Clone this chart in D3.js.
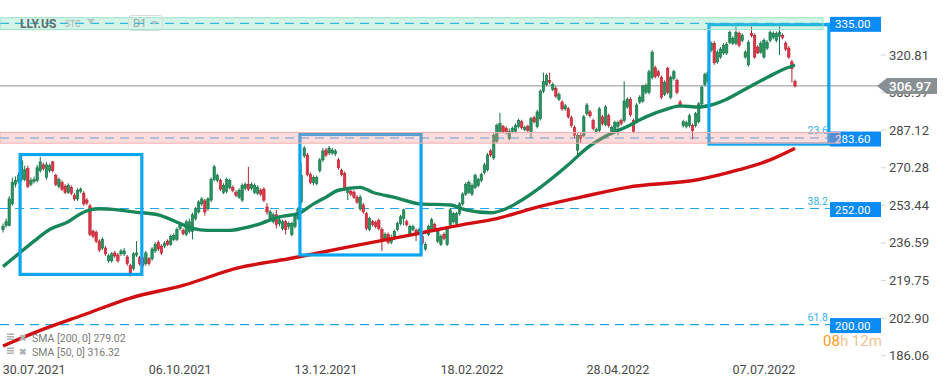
<!DOCTYPE html>
<html>
<head>
<meta charset="utf-8">
<script src="https://cdnjs.cloudflare.com/ajax/libs/d3/7.8.5/d3.min.js"></script>
<style>
  html, body { margin: 0; padding: 0; background: #fff; }
  svg { display: block; font-family: Roboto, "Noto Sans", sans-serif; }
</style>
</head>
<body>
<div id="chart"></div>
<script>
// daily candles LLY.US, index 0..255
const opens = [
  242.6, 244.4, 244.4, 254.1, 262.9, 264.2, 265.0, 265.0, 269.9, 262.9,
  264.2, 264.6, 269.0, 271.6, 265.9, 269.0, 272.9, 266.8, 262.0, 263.7,
  262.0, 259.3, 261.5, 258.0, 256.3, 259.8, 258.9, 255.8, 253.2, 241.8,
  241.3, 237.4, 234.3, 234.3, 228.6, 228.6, 232.1, 231.2, 231.7, 231.7,
  230.3, 226.4, 225.1, 231.2, 229.9, 229.9, 227.3, 229.5, 229.5, 233.0,
  236.9, 235.2, 235.2, 237.4, 236.0, 238.2, 238.2, 243.1, 242.2, 240.4,
  241.8, 241.8, 247.5, 250.5, 254.1, 255.4, 251.9, 255.8, 265.0, 264.6,
  264.6, 259.3, 259.8, 261.5, 261.5, 259.3, 257.1, 255.8, 261.1, 262.9,
  261.1, 259.3, 258.9, 260.2, 260.7, 252.7, 247.5, 246.1, 249.2, 245.3,
  243.1, 246.1, 244.0, 240.4, 244.0, 247.5, 254.9, 275.6, 276.0, 267.2,
  263.7, 263.3, 269.0, 273.8, 278.2, 276.9, 276.9, 276.5, 273.8, 269.0,
  267.7, 259.3, 259.8, 259.3, 257.1, 251.9, 253.6, 249.7, 242.6, 246.1,
  245.7, 246.6, 242.6, 238.2, 240.4, 236.9, 238.7, 242.6, 245.3, 247.5,
  246.1, 240.4, 242.6, 242.2, 241.3, 239.6, 233.9, 240.4, 242.6, 244.8,
  237.4, 236.0, 240.4, 236.0, 244.8, 246.1, 245.3, 249.7, 254.1, 258.5,
  259.3, 258.5, 261.5, 262.4, 264.6, 268.1, 269.4, 277.8, 274.7, 282.2,
  286.6, 288.8, 287.9, 283.5, 286.6, 286.6, 288.8, 290.9, 287.4, 288.8,
  286.6, 292.7, 288.8, 292.3, 304.6, 307.6, 309.4, 305.4, 305.9, 301.0,
  299.7, 296.7, 296.7, 292.7, 288.3, 278.2, 284.8, 284.8, 294.5, 295.3,
  291.4, 286.6, 287.0, 293.1, 289.6, 293.6, 286.6, 287.0, 288.8, 291.4,
  291.4, 297.5, 301.0, 291.4, 291.4, 299.7, 300.2, 304.1, 304.1, 310.7,
  315.1, 313.3, 310.7, 303.2, 314.7, 301.9, 310.3, 309.4, 299.7, 289.2,
  288.8, 289.2, 289.2, 289.2, 290.9, 298.9, 307.6, 309.0, 323.0, 326.1,
  317.7, 319.9, 321.7, 321.7, 326.5, 326.1, 326.1, 330.5, 327.4, 319.9,
  316.4, 330.5, 329.6, 324.3, 322.1, 319.9, 323.9, 327.4, 328.7, 327.4,
  329.2, 329.6, 326.1, 323.9, 317.7, 309.0
];
const highs = [
  245.3, 247.5, 257.6, 265.9, 266.4, 268.1, 275.6, 271.2, 271.2, 265.9,
  266.4, 271.6, 275.1, 272.5, 272.9, 272.1, 273.4, 267.7, 265.9, 264.6,
  262.9, 263.3, 262.4, 258.9, 261.1, 261.5, 259.8, 256.7, 254.1, 242.6,
  242.2, 238.2, 239.1, 235.2, 231.7, 232.5, 233.0, 232.1, 233.9, 234.3,
  231.2, 227.3, 232.5, 237.4, 230.8, 230.8, 233.0, 230.3, 234.7, 236.9,
  237.8, 236.0, 237.4, 238.2, 240.4, 240.9, 243.5, 245.7, 243.1, 247.0,
  247.5, 250.1, 252.7, 255.8, 257.1, 256.3, 257.1, 265.9, 271.6, 267.7,
  265.5, 263.3, 265.9, 265.5, 262.4, 260.2, 261.1, 263.3, 263.7, 270.7,
  263.7, 263.3, 262.4, 261.1, 261.5, 254.5, 251.4, 250.1, 251.4, 247.9,
  247.0, 247.0, 246.1, 246.1, 249.7, 252.7, 272.5, 280.0, 276.9, 268.1,
  266.8, 266.8, 274.7, 279.1, 279.1, 280.0, 279.1, 278.7, 274.7, 269.9,
  268.6, 261.5, 260.7, 260.2, 258.0, 258.0, 254.5, 250.5, 248.3, 247.0,
  246.6, 247.5, 243.5, 241.3, 241.3, 240.4, 242.6, 246.1, 249.2, 251.9,
  247.0, 244.8, 244.8, 243.1, 243.5, 240.4, 236.9, 244.8, 247.9, 245.7,
  242.6, 240.4, 241.3, 244.0, 252.3, 250.5, 250.5, 254.9, 259.3, 263.7,
  264.6, 263.3, 267.7, 265.9, 268.1, 272.5, 276.9, 278.7, 285.7, 290.1,
  294.9, 289.6, 288.8, 287.9, 288.8, 290.1, 292.3, 291.8, 289.2, 289.6,
  293.1, 293.6, 296.2, 305.4, 312.9, 312.5, 312.9, 308.5, 306.8, 304.1,
  300.6, 298.9, 297.5, 293.6, 289.2, 285.7, 285.7, 294.0, 299.3, 296.2,
  292.3, 288.3, 297.5, 294.0, 298.4, 294.5, 289.2, 291.4, 291.4, 292.3,
  309.0, 301.9, 301.9, 292.3, 299.3, 302.8, 307.6, 308.1, 314.2, 323.0,
  316.0, 314.2, 311.6, 309.4, 315.5, 311.6, 314.2, 310.3, 300.6, 291.8,
  291.4, 294.5, 290.1, 295.3, 299.7, 307.2, 312.9, 313.8, 327.0, 327.0,
  323.0, 324.3, 326.1, 326.5, 331.8, 329.2, 333.6, 331.4, 330.5, 323.0,
  327.4, 333.6, 330.5, 325.2, 327.0, 328.3, 327.4, 331.8, 331.4, 331.4,
  333.6, 330.5, 327.0, 324.8, 318.6, 309.8
];
const lows = [
  241.3, 243.5, 244.0, 253.2, 261.5, 263.3, 264.2, 264.2, 261.1, 262.0,
  263.3, 263.7, 268.1, 269.0, 265.0, 268.1, 268.1, 262.0, 261.1, 259.8,
  258.5, 258.5, 258.0, 255.4, 255.4, 258.9, 253.2, 253.6, 239.6, 238.7,
  236.5, 232.5, 233.4, 230.8, 227.7, 227.7, 229.9, 227.7, 230.8, 230.8,
  226.4, 221.6, 224.2, 230.3, 226.4, 225.5, 226.4, 226.4, 228.6, 232.1,
  233.0, 231.2, 234.3, 235.2, 235.2, 237.4, 237.4, 242.2, 240.0, 239.6,
  240.9, 238.2, 246.6, 249.7, 253.2, 248.8, 251.0, 254.9, 264.2, 263.7,
  259.8, 258.5, 258.9, 260.7, 259.3, 257.1, 256.3, 254.9, 260.2, 259.8,
  260.2, 258.5, 258.0, 257.6, 254.9, 249.2, 246.6, 245.3, 243.1, 244.0,
  242.2, 240.4, 242.6, 239.6, 243.1, 246.6, 254.1, 274.7, 266.4, 262.9,
  262.4, 262.4, 268.1, 272.9, 275.1, 276.0, 276.0, 275.6, 269.4, 266.4,
  259.8, 255.8, 257.6, 256.3, 254.1, 251.0, 249.7, 242.2, 241.8, 244.0,
  243.1, 242.2, 233.0, 237.4, 236.0, 236.0, 237.8, 241.8, 244.4, 244.4,
  244.0, 240.0, 241.8, 237.4, 240.4, 235.6, 233.0, 239.6, 241.8, 241.8,
  236.5, 235.2, 237.8, 235.2, 244.0, 245.3, 244.4, 248.8, 253.2, 257.6,
  258.5, 257.6, 260.7, 261.5, 263.7, 267.2, 268.6, 275.1, 273.8, 281.3,
  285.7, 285.7, 285.2, 282.6, 285.7, 285.7, 287.9, 287.4, 286.6, 286.1,
  283.5, 290.1, 287.9, 291.4, 303.7, 306.8, 307.6, 304.6, 301.5, 300.2,
  295.8, 295.8, 292.3, 288.3, 283.5, 276.0, 281.3, 283.9, 293.6, 292.7,
  287.0, 285.7, 286.1, 289.2, 288.8, 288.3, 285.7, 286.1, 284.8, 289.2,
  290.5, 296.7, 293.1, 285.7, 290.5, 298.9, 299.3, 303.2, 303.2, 309.8,
  310.3, 310.7, 301.0, 302.4, 303.2, 301.0, 309.4, 303.2, 297.1, 288.3,
  287.9, 288.3, 283.0, 288.3, 290.1, 298.0, 306.8, 308.1, 322.1, 316.4,
  316.9, 319.1, 320.8, 320.8, 325.6, 325.2, 325.2, 324.3, 326.5, 319.1,
  315.5, 328.7, 319.1, 321.3, 321.3, 319.1, 323.0, 326.5, 327.8, 326.5,
  320.8, 327.8, 322.6, 319.1, 308.5, 306.3
];
const closes = [
  244.0, 246.1, 256.3, 263.7, 264.6, 266.8, 273.4, 269.4, 262.0, 264.6,
  265.0, 270.3, 272.9, 269.9, 271.6, 271.2, 269.0, 262.9, 265.0, 260.7,
  259.3, 262.4, 258.9, 256.3, 260.2, 260.7, 254.1, 254.5, 240.4, 239.6,
  237.4, 233.4, 238.2, 231.7, 230.8, 231.7, 230.8, 228.6, 233.0, 233.0,
  227.3, 222.9, 231.7, 232.1, 227.3, 226.4, 232.1, 227.3, 233.9, 236.0,
  233.9, 232.1, 236.5, 236.0, 239.6, 240.0, 242.6, 244.8, 240.9, 246.1,
  246.1, 249.2, 251.9, 254.9, 256.3, 250.5, 256.3, 265.0, 270.7, 266.8,
  260.7, 262.4, 265.0, 264.6, 260.2, 258.0, 260.2, 262.4, 262.9, 260.7,
  262.9, 262.4, 261.5, 258.5, 255.8, 250.5, 250.5, 249.2, 244.8, 247.0,
  246.1, 242.6, 245.3, 245.3, 248.8, 251.9, 266.8, 279.1, 267.2, 263.7,
  265.9, 265.9, 273.8, 277.8, 276.0, 279.1, 278.2, 277.8, 270.3, 267.2,
  260.7, 260.7, 258.5, 257.1, 254.9, 257.1, 250.5, 243.1, 247.5, 244.8,
  244.0, 243.1, 237.4, 240.4, 236.9, 238.7, 241.8, 245.3, 248.3, 251.4,
  244.8, 244.0, 244.0, 240.4, 242.6, 236.5, 236.0, 244.0, 247.0, 242.6,
  241.8, 239.6, 238.7, 243.1, 251.4, 249.7, 249.7, 254.1, 258.5, 262.9,
  263.7, 262.4, 266.8, 265.0, 267.2, 271.6, 276.0, 276.0, 284.8, 289.2,
  290.1, 286.6, 286.1, 286.6, 287.9, 289.2, 291.4, 288.3, 288.3, 287.0,
  292.3, 290.9, 295.3, 304.6, 309.0, 311.6, 308.5, 307.6, 302.4, 303.2,
  296.7, 298.0, 293.1, 289.2, 284.8, 284.8, 283.5, 293.1, 298.4, 293.6,
  287.9, 287.4, 296.7, 290.1, 297.5, 289.2, 288.3, 290.5, 290.5, 290.1,
  300.2, 301.0, 294.0, 286.6, 298.4, 301.9, 306.8, 307.2, 313.3, 322.1,
  311.2, 311.6, 301.9, 308.5, 304.1, 310.7, 313.3, 304.1, 298.0, 290.9,
  290.5, 293.6, 287.0, 294.5, 298.9, 306.3, 312.0, 312.9, 326.1, 317.3,
  322.1, 323.5, 325.2, 325.6, 330.9, 328.3, 330.9, 325.2, 329.6, 322.1,
  326.5, 329.6, 319.9, 321.7, 326.1, 327.4, 326.5, 330.9, 330.5, 330.5,
  330.9, 328.7, 323.5, 319.9, 314.7, 306.97
];

// moving averages (bar index -> value)
const sma50Idx = [0, 5, 10, 15, 21, 25, 28, 31, 37, 42, 50, 57, 61, 66, 73, 77, 83, 89, 95, 100, 104, 108, 115, 119, 127, 134, 144, 149, 157, 162, 166, 173, 182, 188, 194, 201, 207, 214, 218, 224, 228, 233, 240, 246, 251, 255];
const sma50Val = [226.0, 231.7, 237.4, 242.6, 246.1, 249.7, 251.4, 251.9, 251.4, 250.5, 249.2, 245.3, 243.1, 242.2, 242.2, 243.1, 245.3, 248.3, 249.7, 254.1, 257.1, 260.2, 261.5, 259.3, 256.7, 254.1, 253.6, 251.4, 250.1, 251.9, 254.9, 261.5, 271.6, 279.1, 284.4, 288.8, 293.1, 296.7, 298.0, 297.5, 298.4, 301.0, 306.3, 310.7, 314.2, 316.32];
const sma200Idx = [0, 12, 26, 41, 58, 76, 92, 108, 121, 134, 148, 159, 170, 186, 201, 224, 237, 247, 255];
const sma200Val = [190.4, 197.4, 204.4, 211.9, 217.6, 225.5, 229.5, 233.9, 237.4, 240.9, 244.8, 247.5, 251.9, 257.1, 261.5, 265.0, 269.4, 273.8, 279.02];

const dateTickIdx = [10, 57, 104, 151, 198, 245];
const dateTickLabels = ['30.07.2021', '06.10.2021', '13.12.2021', '18.02.2022', '28.04.2022', '07.07.2022'];
const priceTicks = [186.06, 202.90, 219.75, 236.59, 253.44, 270.28, 287.12, 303.97, 320.81];

// fibo levels + labels
const fiboLevels = [335.00, 283.60, 252.00, 200.00];
const fiboNames = ['', '23.6', '38.2', '61.8'];
const lastPrice = 306.97;

// zones and boxes (bar index / price)
const greenZone = [332.2, 337.5];
const redZone = [281.3, 286.1];
const boxes = [
  { from: 5.5, to: 44.7, top: 276.2, bottom: 222.5 },
  { from: 95.6, to: 134.6, top: 285.2, bottom: 231.2 },
  { from: 227.3, to: 265.9, top: 334.4, bottom: 280.9 }
];

const W = 949, H = 385;
const svg = d3.select('#chart').append('svg').attr('width', W).attr('height', H);
svg.append('rect').attr('width', W).attr('height', H).attr('fill', '#fff');

const x = d3.scaleLinear().domain([0, 255]).range([3, 795]);
const y = d3.scaleLinear().domain([186.06, 320.81]).range([355.7, 55]);

const clip = svg.append('defs').append('clipPath').attr('id', 'plot')
  .append('rect').attr('x', 0).attr('y', 0).attr('width', 881).attr('height', 362);

const plot = svg.append('g').attr('clip-path', 'url(#plot)');

// price axis (right)
const yAxis = svg.append('g');
priceTicks.forEach(v => {
  yAxis.append('line').attr('x1', 881).attr('x2', 886)
    .attr('y1', y(v)).attr('y2', y(v)).attr('stroke', '#d6d6d6');
  yAxis.append('text').attr('x', 889).attr('y', y(v) + 4.5)
    .attr('font-size', 13).attr('fill', '#4a4a4a').text(v.toFixed(2));
});

// date axis
dateTickIdx.forEach((d, k) => {
  svg.append('text').attr('x', x(d)).attr('y', 373.5)
    .attr('text-anchor', 'middle').attr('font-size', 12.5).attr('fill', '#4a4a4a')
    .text(dateTickLabels[k]);
});

// fibo dashed lines
fiboLevels.forEach((v, k) => {
  plot.append('line').attr('x1', 0).attr('x2', 830)
    .attr('y1', y(v)).attr('y2', y(v))
    .attr('stroke', '#1fa8ef').attr('stroke-width', 1.1)
    .attr('stroke-dasharray', '9,6');
  if (fiboNames[k]) {
    plot.append('text').attr('x', 828).attr('y', y(v) - 4)
      .attr('text-anchor', 'end').attr('font-size', 10.5).attr('fill', '#36aef0')
      .text(fiboNames[k]);
  }
});

// current price line
plot.append('line').attr('x1', 0).attr('x2', 878)
  .attr('y1', y(lastPrice)).attr('y2', y(lastPrice))
  .attr('stroke', '#8c9396').attr('stroke-width', 1);

// candles
const idx = d3.range(closes.length);
const candles = plot.append('g');
candles.selectAll('line').data(idx).join('line')
  .attr('x1', i => x(i)).attr('x2', i => x(i))
  .attr('y1', i => y(highs[i])).attr('y2', i => y(lows[i]))
  .attr('stroke', i => closes[i] >= opens[i] ? '#157045' : '#b3202e')
  .attr('stroke-width', 1);
candles.selectAll('rect').data(idx).join('rect')
  .attr('x', i => x(i) - 1.2).attr('width', 2.4)
  .attr('y', i => y(Math.max(opens[i], closes[i])))
  .attr('height', i => Math.max(1, Math.abs(y(opens[i]) - y(closes[i]))))
  .attr('fill', i => closes[i] >= opens[i] ? '#26955f' : '#e23646')
  .attr('stroke', i => closes[i] >= opens[i] ? '#157045' : '#b3202e')
  .attr('stroke-width', 0.6);

// moving averages
const line = d3.line().curve(d3.curveMonotoneX);
plot.append('path')
  .attr('d', line(sma200Idx.map((d, k) => [x(d), y(sma200Val[k])])))
  .attr('fill', 'none').attr('stroke', '#d10f12').attr('stroke-width', 3.4);
plot.append('path')
  .attr('d', line(sma50Idx.map((d, k) => [x(d), y(sma50Val[k])])))
  .attr('fill', 'none').attr('stroke', '#17875a').attr('stroke-width', 3.4);

// boxes
boxes.forEach(b => {
  plot.append('rect')
    .attr('x', x(b.from)).attr('y', y(b.top))
    .attr('width', x(b.to) - x(b.from)).attr('height', y(b.bottom) - y(b.top))
    .attr('fill', 'none').attr('stroke', '#0aa6f0').attr('stroke-width', 3.2);
});

// price labels on fibo levels
fiboLevels.forEach(v => {
  svg.append('rect').attr('x', 830).attr('y', y(v) - 6.5).attr('width', 51).attr('height', 15)
    .attr('fill', '#0b8bf5');
  svg.append('text').attr('x', 835).attr('y', y(v) + 5)
    .attr('font-size', 11.5).attr('fill', '#fff').text(v.toFixed(2));
});

// zones on top (translucent)
svg.append('rect').attr('x', 0).attr('y', y(greenZone[1]))
  .attr('width', 823).attr('height', y(greenZone[0]) - y(greenZone[1]))
  .attr('fill', 'rgba(110,220,175,0.3)').attr('stroke', '#98e3c8').attr('stroke-width', 1);
svg.append('rect').attr('x', 0).attr('y', y(redZone[1]))
  .attr('width', 840).attr('height', y(redZone[0]) - y(redZone[1]))
  .attr('fill', 'rgba(245,150,150,0.33)').attr('stroke', '#f3b0b0').attr('stroke-width', 1);

// last price tag
const ly = y(lastPrice);
svg.append('path')
  .attr('d', `M877,${ly} L887,${ly - 8} L937,${ly - 8} L937,${ly + 8} L887,${ly + 8} Z`)
  .attr('fill', '#889094');
svg.append('text').attr('x', 889).attr('y', ly + 5).attr('font-size', 13.5)
  .attr('fill', '#fff').attr('font-weight', 500).text(lastPrice.toFixed(2));

// header
const head = svg.append('g');
head.append('text').attr('x', 20).attr('y', 27.5).attr('font-size', 12).attr('font-weight', 'bold')
  .attr('fill', '#606a6a').text('LLY.US');
head.append('text').attr('x', 65).attr('y', 27).attr('font-size', 8.5).attr('fill', '#a9b3b3').text('STC');
head.append('path').attr('d', 'M87,19 L95,19 L91,24 Z').attr('fill', '#b9c2c2');
head.append('rect').attr('x', 128.5).attr('y', 15.5).attr('width', 34).attr('height', 15).attr('rx', 3)
  .attr('fill', 'none').attr('stroke', '#d8dcdc');
head.append('text').attr('x', 133).attr('y', 27).attr('font-size', 11).attr('fill', '#9aa4a4').text('D1');
head.append('path').attr('d', 'M151,21 L158,21 L154.5,25 Z').attr('fill', '#b9c2c2');

// indicator legend
const leg = [['SMA [200,  0]  279.02', 341.5], ['SMA [50,  0]  316.32', 355.5]];
leg.forEach(([t, yy]) => {
  const g = svg.append('g');
  g.append('rect').attr('x', 7).attr('y', yy - 8).attr('width', 7).attr('height', 1.5).attr('fill', '#b0b0b0');
  g.append('rect').attr('x', 7).attr('y', yy - 5.5).attr('width', 7).attr('height', 1.5).attr('fill', '#b0b0b0');
  g.append('rect').attr('x', 7).attr('y', yy - 3).attr('width', 7).attr('height', 1.5).attr('fill', '#b0b0b0');
  g.append('text').attr('x', 19).attr('y', yy - 1).attr('font-size', 9).attr('font-weight', 'bold')
    .attr('fill', '#b0b0b0').text('✖');
  g.append('text').attr('x', 32).attr('y', yy).attr('font-size', 10.5).attr('fill', '#7a7a7a').text(t);
});

// countdown
const cd = svg.append('text').attr('x', 823).attr('y', 346).attr('font-size', 15);
cd.append('tspan').attr('fill', '#ff9a1a').text('08');
cd.append('tspan').attr('fill', '#e8c494').text('h 12m');
</script>
</body>
</html>
